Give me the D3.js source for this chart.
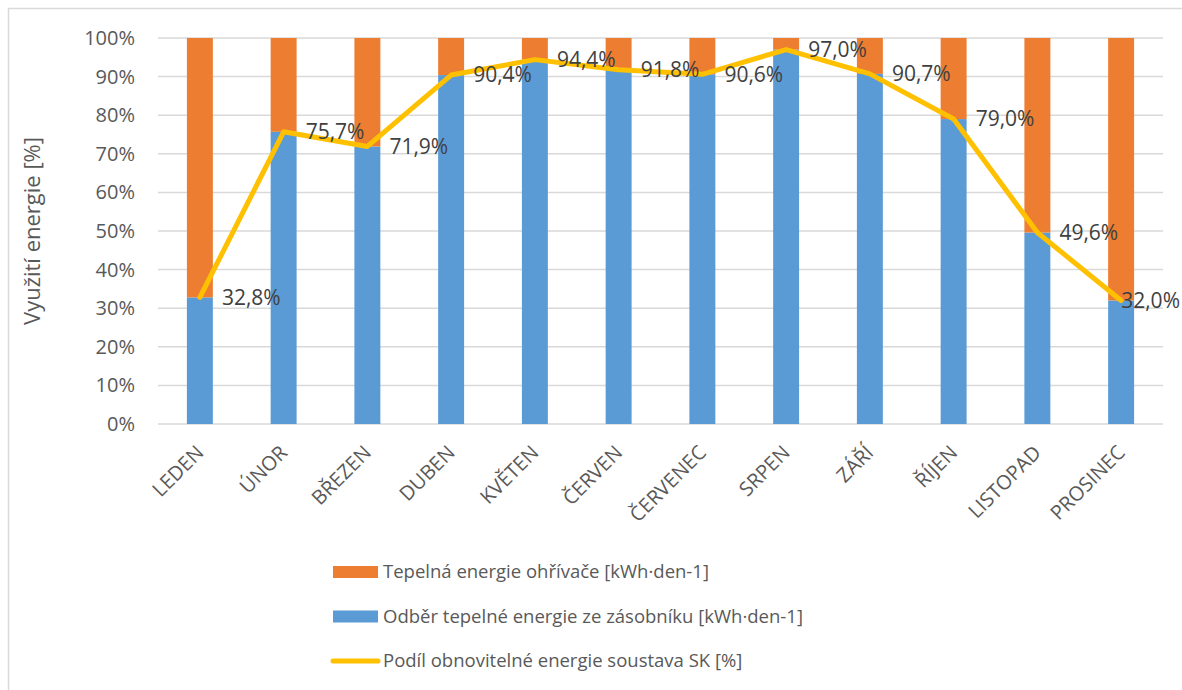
<!DOCTYPE html>
<meta charset="utf-8">
<script src="https://d3js.org/d3.v7.min.js"></script>
<style>
  body { margin: 0; background: #fff; font-family: 'Open Sans', sans-serif; }
</style>
<body>
<svg width="1182" height="690"></svg>
</body>
<script>

// data
var months = ["LEDEN", "ÚNOR", "BŘEZEN", "DUBEN", "KVĚTEN", "ČERVEN",
              "ČERVENEC", "SRPEN", "ZÁŘÍ", "ŘÍJEN", "LISTOPAD", "PROSINEC"];
var podil = [32.8, 75.7, 71.9, 90.4, 94.4, 91.8, 90.6, 97.0, 90.7, 79.0, 49.6, 32.0];
var odber = podil.slice();                                   // blue part [%]
var ohrivac = podil.map(function(v) { return 100 - v; });    // orange part [%]
var yTicks = [0, 10, 20, 30, 40, 50, 60, 70, 80, 90, 100];

var seriesNames = ["Tepelná energie ohřívače [kWh·den-1]",
                   "Odběr tepelné energie ze zásobníku [kWh·den-1]",
                   "Podíl obnovitelné energie soustava SK [%]"];

var cOrange = "#ED7D31", cBlue = "#5B9BD5", cYellow = "#FFC000";

var svg = d3.select("svg"),
    margin = {top: 38, right: 19, bottom: 266, left: 158},
    width = 1182 - margin.left - margin.right,
    height = 690 - margin.top - margin.bottom;

// outer chart frame
svg.append("rect")
    .attr("x", 8.5).attr("y", 8.5)
    .attr("width", 1300).attr("height", 800)
    .attr("fill", "none")
    .attr("stroke", "#D9D9D9")
    .attr("stroke-width", 1.5);

var g = svg.append("g").attr("transform", "translate(" + margin.left + "," + margin.top + ")");

var x = d3.scaleBand().domain(months).range([0, width]).padding(0);
var y = d3.scaleLinear().domain([0, 100]).range([height, 0]);
var barW = x.bandwidth() * 0.31;

// gridlines
g.append("g")
  .selectAll("line")
  .data(yTicks)
  .enter().append("line")
    .attr("x1", 0).attr("x2", width)
    .attr("y1", function(d) { return y(d); })
    .attr("y2", function(d) { return y(d); })
    .attr("stroke", "#D9D9D9")
    .attr("stroke-width", 1.5);

// y tick labels
g.append("g")
  .selectAll("text")
  .data(yTicks)
  .enter().append("text")
    .attr("x", -23)
    .attr("y", function(d) { return y(d); })
    .attr("dy", "0.35em")
    .attr("text-anchor", "end")
    .attr("font-size", 20)
    .attr("fill", "#595959")
    .text(function(d) { return d + "%"; });

// stacked bars
var rows = months.map(function(m, i) { return {m: m, odber: odber[i], ohrivac: ohrivac[i]}; });
var stack = d3.stack().keys(["odber", "ohrivac"])(rows);
var colors = {odber: cBlue, ohrivac: cOrange};

g.append("g")
  .selectAll("g")
  .data(stack)
  .enter().append("g")
    .attr("fill", function(d) { return colors[d.key]; })
  .selectAll("rect")
  .data(function(d) { return d; })
  .enter().append("rect")
    .attr("x", function(d) { return x(d.data.m) + x.bandwidth() / 2 - barW / 2; })
    .attr("y", function(d) { return y(d[1]); })
    .attr("height", function(d) { return y(d[0]) - y(d[1]); })
    .attr("width", barW);

// line
var line = d3.line()
    .x(function(d, i) { return x(months[i]) + x.bandwidth() / 2; })
    .y(function(d) { return y(d); });

g.append("path")
    .datum(podil)
    .attr("d", line)
    .attr("fill", "none")
    .attr("stroke", cYellow)
    .attr("stroke-width", 5)
    .attr("stroke-linejoin", "round")
    .attr("stroke-linecap", "round");

// value labels (right of points, pulled back in when they would run off the chart)
g.append("g")
  .selectAll("text")
  .data(podil)
  .enter().append("text")
    .attr("y", function(d) { return y(d); })
    .attr("dy", "0.35em")
    .attr("font-size", 21)
    .attr("fill", "#404040")
    .text(function(d) { return d.toFixed(1).replace(".", ",") + "%"; })
    .attr("x", function(d, i) {
      var px = x(months[i]) + x.bandwidth() / 2 + 22;
      var maxX = 1180 - margin.left - this.getComputedTextLength();
      return Math.min(px, maxX);
    });

// category labels
g.append("g")
  .selectAll("text")
  .data(months)
  .enter().append("text")
    .attr("transform", function(d) {
      return "translate(" + (x(d) + x.bandwidth() / 2) + "," + (height + 25) + ") rotate(-45)";
    })
    .attr("text-anchor", "end")
    .attr("dy", "0.35em")
    .attr("font-size", 20)
    .attr("fill", "#595959")
    .text(function(d) { return d; });

// y axis title
svg.append("text")
    .attr("transform", "translate(40," + (margin.top + height / 2) + ") rotate(-90)")
    .attr("text-anchor", "middle")
    .attr("font-size", 22)
    .attr("fill", "#595959")
    .text("Využití energie [%]");

// legend
var legend = svg.append("g")
  .selectAll("g")
  .data(seriesNames)
  .enter().append("g")
    .attr("transform", function(d, i) { return "translate(333," + (572 + i * 44.5) + ")"; });

legend.each(function(d, i) {
  var el = d3.select(this);
  if (i < 2) {
    el.append("rect")
      .attr("x", 0).attr("y", -6)
      .attr("width", 45).attr("height", 12)
      .attr("fill", i === 0 ? cOrange : cBlue);
  } else {
    el.append("line")
      .attr("x1", 0).attr("x2", 45)
      .attr("stroke", cYellow)
      .attr("stroke-width", 5)
      .attr("stroke-linecap", "round");
  }
  el.append("text")
    .attr("x", 50)
    .attr("dy", "0.35em")
    .attr("font-size", 18.5)
    .attr("fill", "#595959")
    .text(d);
});

</script>
